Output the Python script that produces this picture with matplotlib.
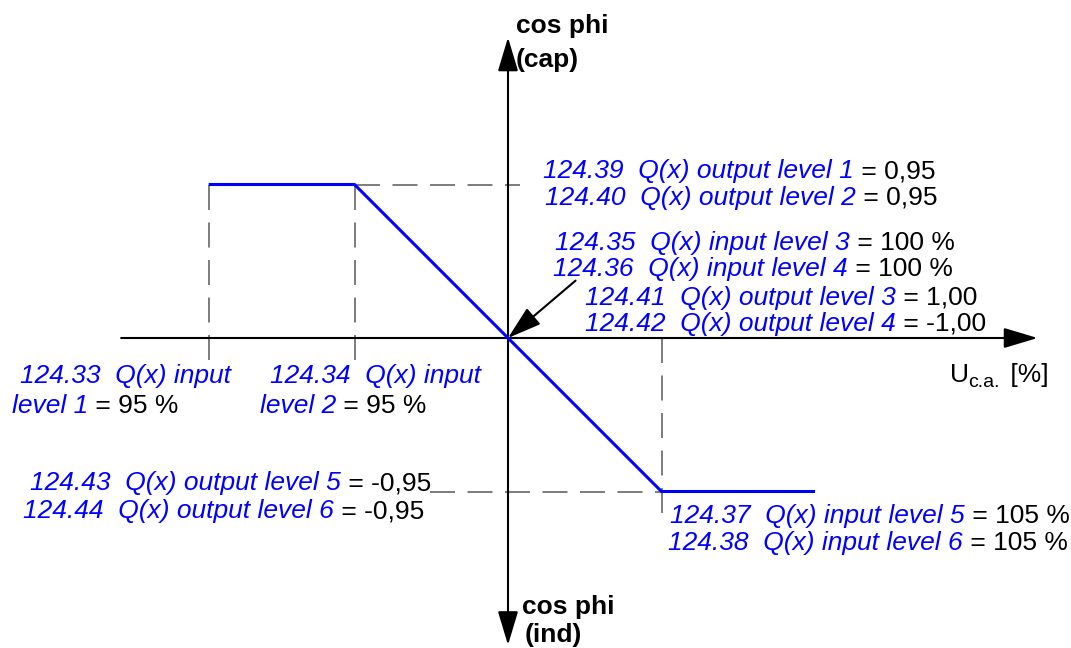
import matplotlib
matplotlib.use("Agg")
import matplotlib.pyplot as plt
import matplotlib.transforms as mtransforms

plt.rcParams['font.family'] = ['Liberation Sans', 'DejaVu Sans']

W, H = 1071, 648
FS = 19
BLUE = '#0000ff'
GREY = '#666666'

# characteristic curve: U c.a. [%] vs cos phi (cap > 0, ind < 0)
u_pct = [90.25, 95, 100, 105, 110]
cos_phi = [0.95, 0.95, 0.0, -0.95, -0.95]

# parameter labels: (blue italic part, black value part)
labels_out_12 = [("124.39  Q(x) output level 1", " = 0,95"),
                 ("124.40  Q(x) output level 2", " = 0,95")]
labels_in_34 = [("124.35  Q(x) input level 3", " = 100 %"),
                ("124.36  Q(x) input level 4", " = 100 %")]
labels_out_34 = [("124.41  Q(x) output level 3", " = 1,00"),
                 ("124.42  Q(x) output level 4", " = -1,00")]
labels_out_56 = [("124.43  Q(x) output level 5", " = -0,95"),
                 ("124.44  Q(x) output level 6", " = -0,95")]
labels_in_56 = [("124.37  Q(x) input level 5", " = 105 %"),
                ("124.38  Q(x) input level 6", " = 105 %")]

fig = plt.figure(figsize=(W / 100, H / 100), dpi=100)
ax = fig.add_axes([0, 0, 1, 1])
ax.set_axis_off()

# scale so that 1 % = 30.7 px and origin (100 %, 0) sits at pixel (508, 338)
px_per_pct = 30.7
px_per_unit = 153.5 / 0.95
ax.set_xlim(100 - 508 / px_per_pct, 100 + (W - 508) / px_per_pct)
ax.set_ylim(-(H - 338) / px_per_unit, 338 / px_per_unit)

# pixel helper (from top-left) for text layout
P = mtransforms.Affine2D().scale(1, -1).translate(0, H)

# axes with arrow heads
arrow = dict(arrowstyle='-|>,head_length=21,head_width=6.3', color='black',
             lw=1.5, shrinkA=0, shrinkB=0, mutation_scale=1)
ax.annotate('', xy=(117.25, 0), xytext=(87.4, 0), arrowprops=arrow)
ax.annotate('', xy=(100, 1.86), xytext=(100, 0), arrowprops=arrow)
ax.annotate('', xy=(100, -1.90), xytext=(100, 0), arrowprops=arrow)

# dashed guide lines
dash = dict(color=GREY, lw=1.2, linestyle=(0, (15, 7.5)), zorder=1)
for u in u_pct[:2]:
    ax.plot([u, u], [cos_phi[0], -0.17], **dash)
ax.plot([u_pct[1], 100.4], [cos_phi[1], cos_phi[1]], **dash)
ax.plot([97.45, u_pct[3]], [cos_phi[3], cos_phi[3]], **dash)
ax.plot([u_pct[3], u_pct[3]], [0, -1.1], **dash)

# curve
ax.plot(u_pct, cos_phi, color=BLUE, lw=2.2, solid_capstyle='butt', zorder=3)

# pointer to the origin
ax.annotate('', xy=(100, 0), xytext=(102.2, 0.355),
            arrowprops=dict(arrowstyle='-|>,head_length=21,head_width=6.5',
                            color='black', lw=1.5, shrinkA=0, shrinkB=0,
                            mutation_scale=1))


def label(x, y, blue, black=''):
    t = ax.text(x, y, blue, transform=P, color=BLUE, style='italic',
                fontsize=FS, va='baseline', ha='left')
    if black:
        ax.annotate(black, xy=(1, 0), xycoords=t, color='black',
                    fontsize=FS, va='bottom', ha='left')
    return t


for (b, k), (x, y) in zip(labels_out_12, [(543, 178), (545, 205)]):
    label(x, y, b, k)
for (b, k), (x, y) in zip(labels_in_34, [(555, 250), (553, 276)]):
    label(x, y, b, k)
for (b, k), (x, y) in zip(labels_out_34, [(585, 305), (585, 331)]):
    label(x, y, b, k)
for (b, k), (x, y) in zip(labels_out_56, [(30, 490), (23, 518)]):
    label(x, y, b, k)
for (b, k), (x, y) in zip(labels_in_56, [(670, 523), (668, 550)]):
    label(x, y, b, k)

label(20, 383, "124.33  Q(x) input")
label(12, 413, "level 1", " = 95 %")
label(270, 383, "124.34  Q(x) input")
label(260, 413, "level 2", " = 95 %")

# axis titles
bold = dict(transform=P, fontsize=FS, fontweight='bold', va='baseline', ha='left')
ax.text(516, 33, "cos phi", **bold)
ax.text(516, 67, "(cap)", **bold)
ax.text(522, 614, "cos phi", **bold)
ax.text(525, 642, "(ind)", **bold)

# U c.a. [%] with subscript
ax.text(950, 382, "U", transform=P, fontsize=FS, va='baseline', ha='left')
ax.text(968, 387, "c.a.", transform=P, fontsize=14, va='baseline', ha='left')
ax.text(1003, 382, " [%]", transform=P, fontsize=FS, va='baseline', ha='left')

fig.savefig("out.png", dpi=100)
